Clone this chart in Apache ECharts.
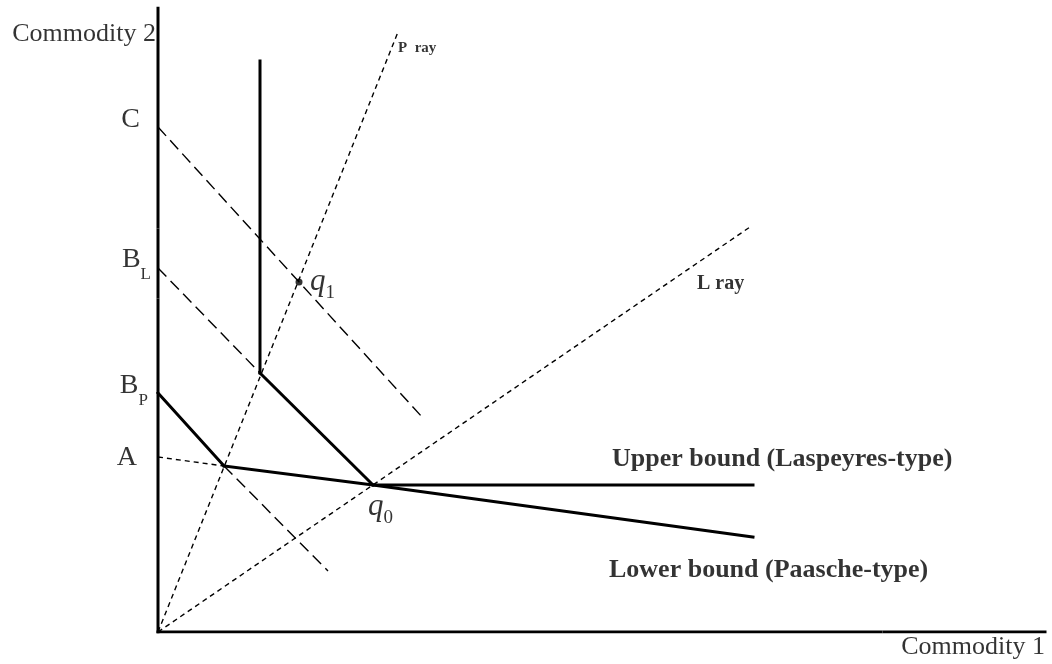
<!DOCTYPE html>
<html>
<head>
<meta charset="utf-8">
<title>Laspeyres / Paasche bounds</title>
<script src="https://cdn.jsdelivr.net/npm/echarts@6/dist/echarts.min.js"></script>
<style>
  html, body { margin: 0; padding: 0; background: #fff; }
  #chart { width: 1052px; height: 664px; }
</style>
</head>
<body>
<div id="chart"></div>
<script>
// quantities of commodity 1 (x) and commodity 2 (y)
const yAxisSegs = [[[0, 0], [0, 33.2]], [[0, 33.5], [0, 40.2]], [[0, 40.5], [0, 62.4]]]
const xAxisSegs = [[[0, 0], [72.3, 0]], [[72.6, 0], [88.7, 0]]]

const pRay = [[0, 0], [24.0, 60.0]]
const lRay = [[0, 0], [59.2, 40.5]]
const cLine = [[0, 50.5], [26.4, 21.5]]
const bLDashed = [[0, 36.4], [10.2, 25.9]]
const bLSolid = [[10.2, 25.9], [21.5, 14.7]]
const bPSolid = [[0, 23.9], [6.6, 16.6]]
const bPDashed = [[6.6, 16.6], [17.0, 6.1]]
const aDashed = [[0, 17.5], [6.6, 16.6]]
const lowerBound = [[6.6, 16.6], [21.5, 14.7], [59.5, 9.5]]
const upperBound = [[21.5, 14.7], [59.5, 14.7]]
const arrowLine = [[10.2, 57.1], [10.2, 25.9]]
const q1Point = [[14.1, 35.0]]

// text and where it sits (data coords)
const axisTitles = [['Commodity 2', -0.2, 59.8], ['Commodity 1', 88.7, -1.5]]
const interceptLabels = [['C', '', -1.8, 51.2], ['B', 'L', -0.7, 37.2], ['B', 'P', -1.0, 24.6], ['A', '', -2.1, 17.4]]
const bundleLabels = [['q', '1', 15.2, 35.0], ['q', '0', 21.0, 12.5]]
const rayLabels = [['P  ray', 24.0, 58.35, 15], ['L ray', 53.9, 34.85, 20]]
const boundLabels = [['Upper bound (Laspeyres-type)', 45.4, 17.3], ['Lower bound (Paasche-type)', 45.1, 6.2]]

const serif = '"Liberation Serif", "Times New Roman", serif'

const seg = (data, width, dash) => ({
    type: 'line',
    data: data,
    symbol: 'none',
    silent: true,
    animation: false,
    lineStyle: {
        color: '#000',
        width: width,
        type: dash || 'solid',
        cap: width > 2 ? 'square' : 'butt'
    }
})

const shortDash = [5, 4]
const longDash = [12, 6]

const series = []
yAxisSegs.forEach(s => series.push(seg(s, 3)))
xAxisSegs.forEach(s => series.push(seg(s, 3)))
series.push(seg(pRay, 1.4, shortDash))
series.push(seg(lRay, 1.4, shortDash))
series.push(seg(cLine, 1.4, longDash))
series.push(seg(bLDashed, 1.4, longDash))
series.push(seg(bPDashed, 1.4, longDash))
series.push(seg(aDashed, 1.4, shortDash))
series.push(seg(bLSolid, 3))
series.push(seg(bPSolid, 3))
series.push(seg(lowerBound, 3))
series.push(seg(upperBound, 3))
series.push(seg(arrowLine, 3))

series.push({
    type: 'scatter',
    data: q1Point,
    symbol: 'circle',
    symbolSize: 7,
    itemStyle: { color: '#000' },
    silent: true,
    animation: false
})

// labels
const labelItems = []
axisTitles.forEach(([t, x, y]) => {
    labelItems.push({
        value: [x, y],
        label: {
            show: true, position: 'left', distance: 0,
            formatter: t, fontFamily: serif, fontSize: 26, color: '#000'
        }
    })
})
interceptLabels.forEach(([m, s, x, y]) => {
    labelItems.push({
        value: [x, y],
        label: {
            show: true, position: 'left', distance: 0,
            formatter: s ? `{m|${m}}{s|${s}}` : `{m|${m}}`,
            rich: {
                m: { fontFamily: serif, fontSize: 28, color: '#000' },
                s: { fontFamily: serif, fontSize: 17, color: '#000', padding: [30, 0, 0, 0] }
            }
        }
    })
})
bundleLabels.forEach(([m, s, x, y]) => {
    labelItems.push({
        value: [x, y],
        label: {
            show: true, position: 'right', distance: 0,
            formatter: `{m|${m}}{s|${s}}`,
            rich: {
                m: { fontFamily: serif, fontStyle: 'italic', fontSize: 31, color: '#000' },
                s: { fontFamily: serif, fontSize: 19, color: '#000', padding: [22, 0, 0, 0] }
            }
        }
    })
})
rayLabels.forEach(([t, x, y, fs]) => {
    labelItems.push({
        value: [x, y],
        label: {
            show: true, position: 'right', distance: 0,
            formatter: t, fontFamily: serif, fontWeight: 'bold', fontSize: fs, color: '#000'
        }
    })
})
boundLabels.forEach(([t, x, y]) => {
    labelItems.push({
        value: [x, y],
        label: {
            show: true, position: 'right', distance: 0,
            formatter: t, fontFamily: serif, fontWeight: 'bold', fontSize: 26, color: '#000'
        }
    })
})
series.push({
    type: 'scatter',
    data: labelItems,
    symbolSize: 0,
    clip: false,
    silent: true,
    animation: false
})

const chart = echarts.init(document.getElementById('chart'))
chart.setOption({
    animation: false,
    backgroundColor: '#fff',
    grid: { left: 158, right: 7, top: 8, bottom: 32 },
    xAxis: {
        type: 'value', min: 0, max: 88.7,
        axisLine: { show: false }, axisTick: { show: false },
        axisLabel: { show: false }, splitLine: { show: false }
    },
    yAxis: {
        type: 'value', min: 0, max: 62.4,
        axisLine: { show: false }, axisTick: { show: false },
        axisLabel: { show: false }, splitLine: { show: false }
    },
    series: series
})
</script>
</body>
</html>
